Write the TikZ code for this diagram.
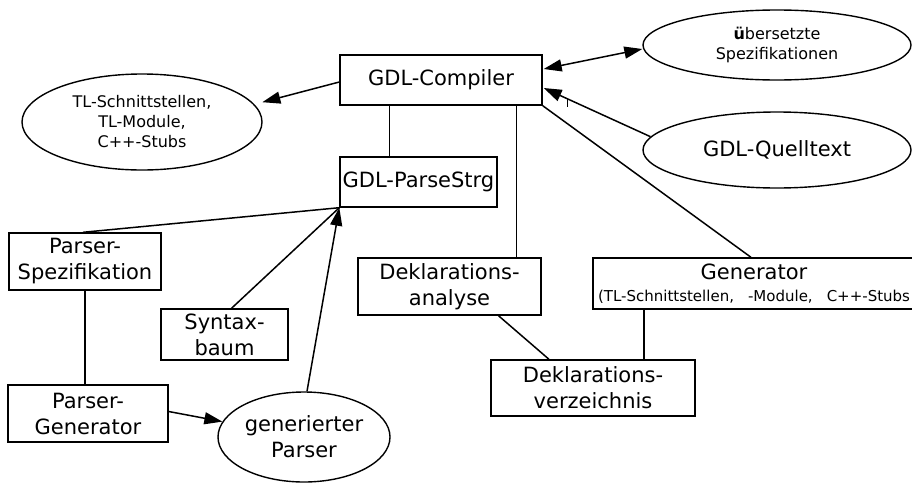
\documentclass[tikz,border=0pt]{standalone}
\usepackage{fontspec}
\setmainfont{DejaVu Sans}
\usetikzlibrary{arrows.meta,calc,shapes.geometric}
\begin{document}
\begin{tikzpicture}[x=1pt,y=-1pt,
  every path/.style={line width=1.5pt},
  box/.style={draw,rectangle,line width=1.4pt,inner sep=0pt,align=center,
    font=\fontsize{21}{26}\selectfont},
  oval/.style={draw,ellipse,line width=1.4pt,inner sep=0pt,align=center},
  big/.style={font=\fontsize{21}{26}\selectfont},
  small/.style={font=\fontsize{16}{20}\selectfont},
  tip/.style={-{Triangle[length=18pt,width=12pt]}},
  dtip/.style={{Triangle[length=18pt,width=12pt]}-{Triangle[length=18pt,width=12pt]}}]
\useasboundingbox (0,0) rectangle (912,482);

% boxes
\node[box,minimum width=202pt,minimum height=50pt] (comp) at (441,80) {GDL-Compiler};
\node[box,minimum width=157pt,minimum height=50pt] (pstr) at (418.5,182) {GDL-ParseStrg};
\node[box,minimum width=152pt,minimum height=57pt] (pspec) at (85,261.5) {Parser-\\Spezifikation};
\node[box,minimum width=127pt,minimum height=51pt] (syn) at (224.5,334.5) {Syntax-\\baum};
\node[box,minimum width=160pt,minimum height=57pt] (pgen) at (88,413.5) {Parser-\\Generator};
\node[box,minimum width=183pt,minimum height=57pt] (dana) at (449.5,286.5) {Deklarations-\\analyse};
\node[box,minimum width=322pt,minimum height=51pt] (gen) at (754,283.5)
  {Generator\\[-4pt]{\fontsize{15}{18}\selectfont (TL-Schnittstellen,\hspace{14pt}-Module,\hspace{14pt}C++-Stubs}};
\node[box,minimum width=204pt,minimum height=56pt] (dver) at (593,388) {Deklarations-\\verzeichnis};

% ellipses
\node[oval,small,minimum width=240pt,minimum height=96pt] (tl) at (142,122)
  {TL-Schnittstellen,\\TL-Module,\\C++-Stubs};
\node[oval,small,minimum width=268pt,minimum height=70pt] (ueb) at (777,45)
  {\textbf{ü}bersetzte\\Spezifikationen};
\node[oval,big,minimum width=268pt,minimum height=76pt] (gql) at (777,150) {GDL-Quelltext};
\node[oval,big,minimum width=172pt,minimum height=90pt] (gp) at (304,437) {generierter\\Parser};

% attachment points on box edges
\coordinate (cp1) at ($(pstr.north west)+(50,0)$);
\coordinate (cp2) at ($(dana.north west)+(159,0)$);
\coordinate (cp3) at ($(dver.north)+(51,0)$);

% connectors
\draw[tip] ($(comp.west)+(0,2)$) -- ($(tl.9)+(8,-2)$);
\draw[dtip] ($(comp.east)+(1,-11)$) -- ($(ueb.west)+(0,4)$);
\draw[tip] (gql.174) -- ($(comp.east)+(1,8)$);
\draw[line width=1pt] (567,99) -- (567,107);
\draw (cp1) -- (cp1 |- comp.south);
\draw (cp2) -- (cp2 |- comp.south);
\draw (comp.south east) -- ($(gen.north)+(-3,0)$);
\draw (pstr.south west) -- ($(pspec.north)+(-2,0)$);
\draw ($(syn.north)+(7,0)$) -- (pstr.south west);
\draw[tip] ($(gp.north)+(3,0)$) -- (pstr.south west);
\draw (pspec.south) -- (pspec.south |- pgen.north);
\draw[tip] ($(pgen.east)+(0,-2)$) -- (gp);
\draw ($(dana.south)+(49,0)$) -- ($(dver.north)+(-44,0)$);
\draw (cp3) -- (cp3 |- gen.south);
\end{tikzpicture}
\end{document}
